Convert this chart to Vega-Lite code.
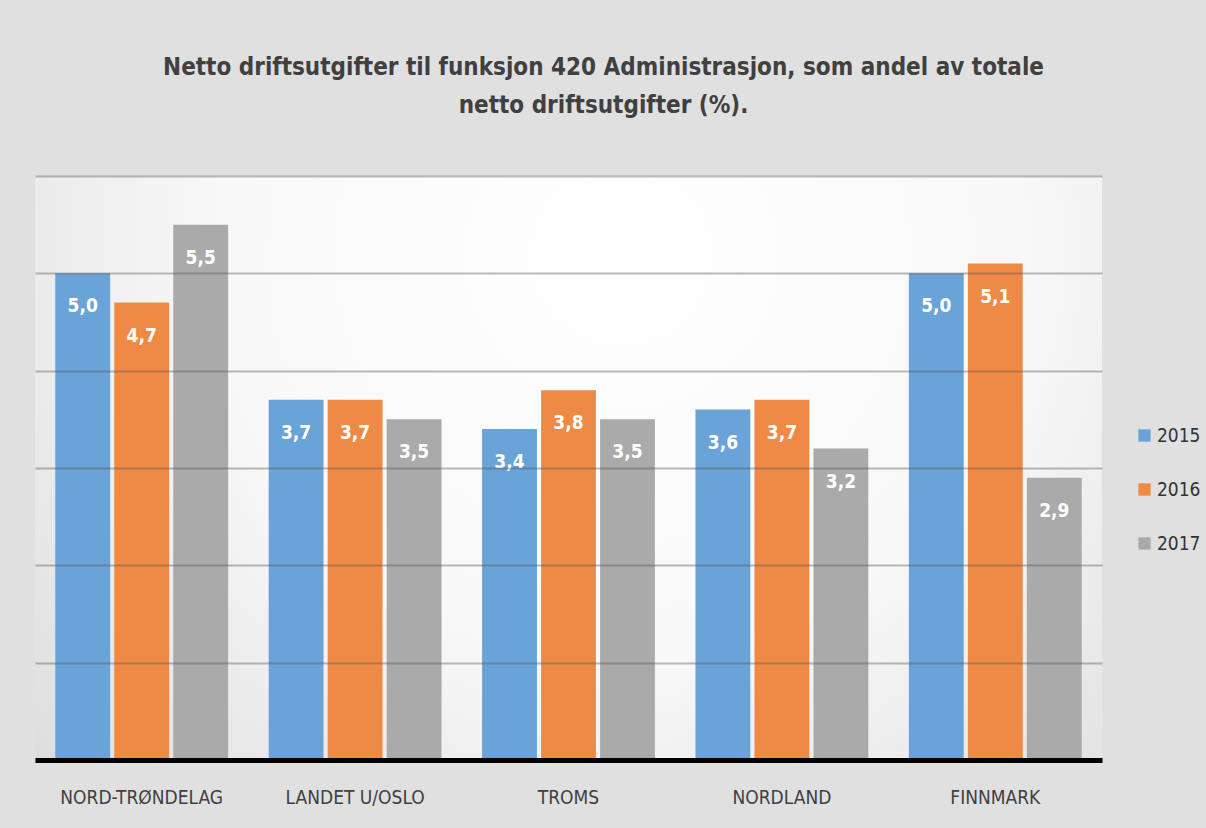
{
  "$schema": "https://vega.github.io/schema/vega-lite/v6.json",
  "width": 1067,
  "height": 584,
  "autosize": {"type": "none"},
  "padding": {"left": 35, "top": 176, "right": 104, "bottom": 68},
  "background": "#e0e0e0",
  "config": {
    "locale": {"number": {"decimal": ",", "thousands": " ", "grouping": [3], "currency": ["", " kr"]}},
    "view": {"stroke": null, "fill": {"gradient": "radial", "x1": 0.55, "y1": 0.3, "r1": 0, "x2": 0.55, "y2": 0.3, "r2": 0.85, "stops": [{"offset": 0, "color": "#ffffff"}, {"offset": 0.45, "color": "#f8f8f8"}, {"offset": 1, "color": "#d4d4d4"}]}},
    "font": "Liberation Sans Narrow, DejaVu Sans Condensed, sans-serif"
  },
  "title": {
    "text": ["Netto driftsutgifter  til funksjon  420 Administrasjon,  som andel av totale", "netto driftsutgifter  (%)."],
    "fontSize": 24,
    "fontWeight": "bold",
    "color": "#404040",
    "anchor": "middle",
    "frame": "group",
    "dx": 35,
    "offset": 58,
    "lineHeight": 38
  },
  "data": {
    "values": [
      {"region": "NORD-TRØNDELAG", "year": "2015", "value": 5.0},
      {"region": "NORD-TRØNDELAG", "year": "2016", "value": 4.7},
      {"region": "NORD-TRØNDELAG", "year": "2017", "value": 5.5},
      {"region": "LANDET U/OSLO", "year": "2015", "value": 3.7},
      {"region": "LANDET U/OSLO", "year": "2016", "value": 3.7},
      {"region": "LANDET U/OSLO", "year": "2017", "value": 3.5},
      {"region": "TROMS", "year": "2015", "value": 3.4},
      {"region": "TROMS", "year": "2016", "value": 3.8},
      {"region": "TROMS", "year": "2017", "value": 3.5},
      {"region": "NORDLAND", "year": "2015", "value": 3.6},
      {"region": "NORDLAND", "year": "2016", "value": 3.7},
      {"region": "NORDLAND", "year": "2017", "value": 3.2},
      {"region": "FINNMARK", "year": "2015", "value": 5.0},
      {"region": "FINNMARK", "year": "2016", "value": 5.1},
      {"region": "FINNMARK", "year": "2017", "value": 2.9}
    ]
  },
  "encoding": {
    "x": {
      "field": "region",
      "type": "nominal",
      "sort": ["NORD-TRØNDELAG", "LANDET U/OSLO", "TROMS", "NORDLAND", "FINNMARK"],
      "scale": {"paddingInner": 0.19, "paddingOuter": 0.095},
      "axis": {"title": null, "labelAngle": 0, "labelFontSize": 19, "labelColor": "#404040", "labelPadding": 28, "ticks": false, "domainColor": "#000000", "domainWidth": 5, "grid": false, "zindex": 1}
    },
    "xOffset": {"field": "year", "type": "nominal", "scale": {"paddingInner": 0.07}},
    "y": {
      "field": "value",
      "type": "quantitative",
      "scale": {"domain": [0, 6], "nice": false},
      "axis": {"title": null, "labels": false, "ticks": false, "domain": false, "grid": true, "gridColor": "#555555", "gridOpacity": 0.4, "gridWidth": 2, "values": [1, 2, 3, 4, 5, 6], "zindex": 1}
    }
  },
  "layer": [
    {
      "mark": {"type": "bar"},
      "encoding": {
        "color": {
          "field": "year",
          "type": "nominal",
          "scale": {"range": ["#6aa3d8", "#ee8a45", "#aaaaaa"]},
          "legend": {"title": null, "orient": "none", "legendX": 1100, "legendY": 250, "symbolType": "square", "symbolSize": 150, "labelFontSize": 19, "labelColor": "#333333", "rowPadding": 34, "labelOffset": 3}
        }
      }
    },
    {
      "mark": {"type": "text", "dy": 33, "baseline": "middle", "fontSize": 19, "fontWeight": "bold", "color": "#ffffff"},
      "encoding": {
        "text": {"field": "value", "type": "quantitative", "format": ".1f"}
      }
    }
  ]
}
